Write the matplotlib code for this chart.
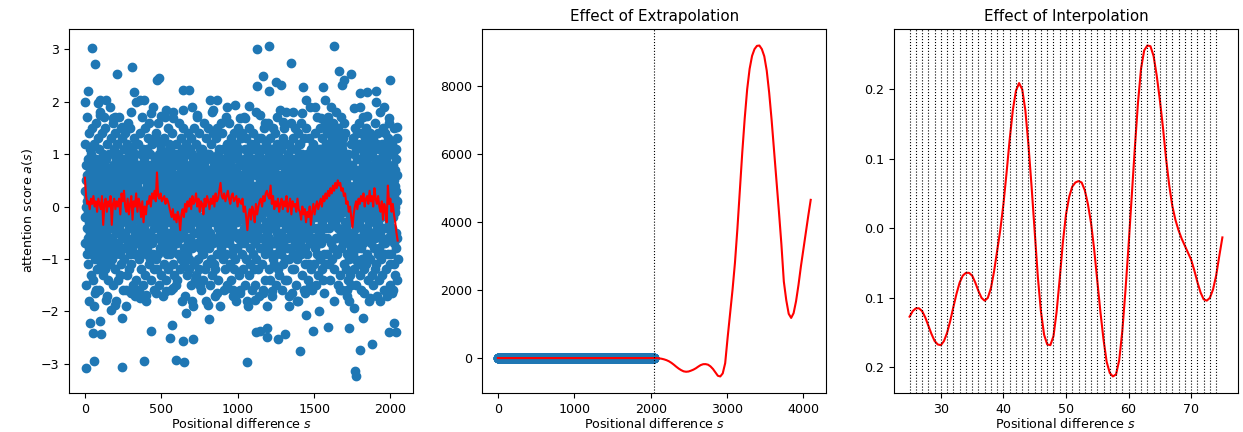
import numpy as np
import matplotlib
matplotlib.use('Agg')
import matplotlib.pyplot as plt
from matplotlib.ticker import FixedLocator, FixedFormatter

plt.rcParams['font.size'] = 9.1

# attention scores a(s), bulk of the cloud, in tenths, evenly spread over s = 0..2047
bulk_tenths = [
    3, -7, 12, -2, 8, -15, 0, 5, -4, 17, -9, 1, 6, -11, 2, -6, 9, -1, 14, -8, 4, -3, -18, 7, 0, 11, -5, 2, -13, 6, -2, 10,
    -6, 1, 15, -9, 4, -2, 7, -14, 3, -7, 0, 12, -4, 8, -1, -19, 5, 2, -10, 6, -3, 16, -8, 1, 9, -5, 3, -12, 7, -1, 13, -6,
    2, -9, 5, 11, -3, 0, -16, 6, -7, 4, 18, -2, 8, -5, 1, -11, 3, 9, -6, 14, -1, -4, 7, -13, 2, 10, -8, 5, -2, 17, -10, 0,
    8, -3, -12, 4, 1, 15, -7, 2, -5, 9, -1, -17, 6, 3, -9, 12, 0, -4, 7, -14, 5, -2, 10, -6, 1, 19, -8, 4, -11, 3, -1, 6,
    -4, 13, -1, 7, -10, 2, 5, -6, 16, -3, 0, 8, -15, 4, -7, 1, 11, -2, 6, -12, 3, -9, 14, 0, -5, 9, -18, 2, 7, -3, 12, -8,
    5, -1, -14, 3, 10, -7, 1, 17, -4, 6, -9, 2, -13, 8, 0, -5, 15, -2, 4, -11, 7, -6, 1, 13, -3, -16, 9, -1, 5, -8, 2, 11,
    -2, 7, -10, 0, 14, -5, 3, -8, 9, -19, 4, 1, -6, 12, -3, 6, -1, -13, 8, 2, 16, -7, 5, -4, 10, -2, -12, 3, 7, -9, 1, 15,
    0, -11, 6, -3, 18, 2, -8, 4, -1, 11, -6, 9, -15, 3, 1, -4, 13, -9, 5, 0, -17, 7, -2, 10, -5, 4, 12, -7, 2, -14, 8, -1,
    4, -6, 1, 12, -9, 3, -2, 7, -16, 0, 5, -10, 8, -3, 14, -1, 6, -7, 2, -12, 10, -4, 1, 17, -5, 3, -8, 0, 11, -2, -15, 6,
    -7, 2, 9, -4, 0, -13, 5, 1, 15, -6, 3, -9, 7, -1, -18, 4, 11, -3, 6, -8, 2, 13, -5, 0, 8, -11, 4, -2, 16, -6, 1, -10,
    10, -1, -5, 6, -14, 3, 8, -2, 0, 12, -7, 4, -3, 19, -9, 1, 5, -12, 7, -4, 2, -16, 9, -1, 13, 3, -6, 0, -10, 6, -3, 14,
    -3, 8, -12, 1, 5, -6, 16, -2, 3, -9, 10, 0, -4, 7, -15, 2, 6, -1, 12, -8, 4, -5, 0, 11, -13, 3, 9, -7, 1, -17, 5, 2,
    6, -4, 13, -8, 2, 0, -11, 9, -3, 5, 17, -6, 1, -2, 8, -14, 3, 10, -5, 0, 7, -9, 15, -1, 4, -12, 2, 6, -7, 12, -3, -1,
    -9, 3, 0, 11, -5, 7, -2, -16, 4, 1, -8, 14, 6, -3, 9, -11, 2, -6, 18, 0, -4, 5, -13, 8, -1, 3, 10, -7, 1, -15, 6, -2,
    1, 12, -7, 3, -1, 8, -14, 5, 0, -4, 10, -9, 2, 16, -5, 6, -2, -12, 9, 1, -6, 4, 13, -3, 7, -10, 0, 5, -18, 2, 11, -4,
    -5, 0, 9, -2, 15, -8, 3, 6, -11, 1, -3, 7, -17, 4, 12, -6, 0, 8, -1, -13, 5, 2, -9, 10, -4, 14, 1, -7, 3, -2, 6, -12,
    7, -10, 2, -4, 11, 0, -6, 13, -1, 4, -15, 8, 3, -8, 1, 10, -3, 5, -19, 6, -2, 9, 0, -11, 15, -5, 2, -1, 7, -14, 4, 12,
    -1, 5, -13, 8, 2, -7, 17, 0, -3, 9, -10, 4, 1, -5, 14, -2, 6, -12, 3, 11, -8, 0, 7, -4, -16, 5, 2, 10, -6, 1, -9, 3,
    11, -2, 4, -14, 6, 1, -9, 3, 16, -5, 0, 8, -12, 2, -3, 7, -1, 13, -7, 5, -18, 9, 2, -4, 10, -11, 0, 6, -2, 15, -6, 1,
    -8, 4, 0, 10, -3, -15, 7, 1, -5, 12, 3, -10, 6, -1, 18, -6, 2, 9, -13, 4, -2, 0, 14, -7, 5, 1, -11, 8, -3, 6, -17, 2,
    3, -12, 8, -1, 5, 13, -6, 0, -9, 2, 15, -4, 7, -2, -14, 10, 1, -7, 4, 11, -3, 6, -19, 0, 9, -5, 3, 16, -8, 2, -1, 7,
    -6, 9, -2, 14, 0, -10, 4, -4, 11, 6, -16, 1, -7, 3, 8, -1, -12, 5, 2, -5, 17, -3, 7, -9, 1, 12, -2, -15, 6, 0, 10, -4,
    2, -3, 16, -7, 6, 1, -11, 4, 9, -2, -6, 13, 0, -14, 5, 8, -4, 2, -9, 11, -1, 7, -17, 3, 0, -8, 14, 5, -3, 10, -12, 1,
    -10, 6, 1, -5, 12, 3, -1, -18, 7, 0, 10, -8, 4, -3, 15, 2, -6, 9, -2, -13, 6, 1, 11, -5, 3, -16, 8, -1, 4, -7, 13, 0,
    5, -2, -9, 8, 0, 14, -5, 3, -12, 6, 2, -7, 17, -1, 9, -4, 1, -15, 4, 11, -6, 0, 7, -10, 13, -3, 5, 2, -18, 8, -1, 6,
    -4, 10, 3, -13, 7, -1, 5, 15, -8, 2, -3, 9, -11, 0, 6, -6, 12, 4, -2, -16, 8, 1, -5, 11, 3, -9, 0, 14, -4, 7, 2, -12,
    9, 0, -7, 4, -15, 12, 1, -3, 6, -10, 18, 2, -5, 8, -1, 3, -12, 7, 0, 13, -6, 4, -2, -17, 10, 5, -8, 1, 11, -4, 6, -1,
    -2, 13, -6, 1, 9, -11, 4, 0, -16, 7, 3, -4, 11, -8, 2, 15, -1, 5, -9, 0, 8, -14, 6, 2, -3, 12, -7, 4, 1, -19, 9, -5,
    6, -8, 2, 16, -3, 5, -12, 0, 10, -1, -6, 7, 3, -14, 13, -2, 4, -9, 1, 8, -17, 6, -4, 11, 0, -7, 2, 15, -10, 3, -1, 9,
    -11, 1, 7, -4, 14, -7, 0, 9, -2, -15, 5, 3, -9, 12, 1, -5, 17, -3, 6, -12, 2, 10, -6, 4, -1, 8, -13, 0, 5, -3, 11, -8,
    4, -5, 11, 0, -9, 6, 2, -16, 8, -2, 13, -7, 1, 4, -11, 9, -3, 0, 15, -6, 3, -10, 7, -1, -14, 5, 12, -4, 2, 18, -8, 1,
    -3, 7, -14, 2, 10, -6, 5, -1, 12, -10, 0, 4, -17, 8, -3, 6, 1, -8, 11, 3, -5, 16, -2, 7, -12, 0, 9, -6, 4, -1, 13, -9,
    8, -1, 3, -12, 5, 15, -7, 1, -4, 9, -15, 2, 6, -2, 11, 0, -10, 7, -5, 4, 14, -3, -18, 6, 1, -8, 10, -4, 3, 12, -6, 0,
    -7, 4, 12, -3, 0, -9, 8, 16, -5, 2, -1, 10, -13, 5, 3, -6, 9, -16, 1, 7, -2, 13, -8, 0, 6, -11, 4, 2, -4, 15, -1, 5,
    1, -9, 6, 10, -2, 4, -14, 7, 0, -5, 13, 3, -11, 8, -1, 19, -7, 2, -3, 9, -12, 5, 1, -6, 11, -2, 7, -16, 3, 0, 8, -4,
    12, -4, -1, 7, -11, 3, 9, -6, 14, 0, -8, 5, 2, -15, 6, -2, 10, 1, -9, 4, -4, 17, -1, 8, -13, 3, 6, -7, 0, 11, -5, 2,
    -5, 8, 2, -10, 15, -1, 4, -7, 11, 6, -3, 0, 13, -12, 7, 2, -6, 9, -14, 3, 10, -2, 5, -9, 16, 1, -4, 8, -11, 4, 12, -1,
    9, 3, -6, 14, 1, 7, -9, 12, 4, -2, 17, 6, -11, 10, 2, -4, 15, 8, -1, 5, -14, 11, 3, 19, -7, 6, 0, 13, -3, 9, 2, -10,
    4, 16, -2, 8, -8, 11, 5, 1, -12, 13, 7, -3, 10, 2, 18, -6, 9, 0, 14, -9, 6, 3, -1, 12, -15, 8, 4, 15, -4, 1, 11, 7,
    -2, 10, 6, -13, 14, 3, 9, -5, 1, 17, 7, -8, 12, 0, 5, -16, 11, 4, 8, -1, 13, -7, 2, 16, 6, -11, 9, 3, -3, 14, 1, -6,
    5, -12, -4, 9, -16, 0, 3, -9, 6, -1, -14, 2, -7, 10, -3, -18, 4, -10, 1, 7, -5, -13, 8, -2, 12, -8, 0, -15, 3, 6, -6, 2,
    -1, 8, -9, 3, 13, -5, 1, 6, -12, 10, -3, 4, 0, -7, 15, 2, -10, 7, 11, -4, 1, -15, 9, 5, -2, 14, -8, 3, 0, -11, 6, 16,
    7, -3, 12, -6, 2, -13, 9, 1, -1, 14, -8, 4, 6, -16, 0, 11, -4, 3, -10, 8, 17, -2, 5, -7, 1, 10, -12, 2, -5, 13, -1, 4,
    -6, 2, 9, -11, 5, 0, 15, -4, 7, -9, 3, -1, 12, -14, 6, 1, -3, 10, -18, 4, 8, -6, 2, 14, -2, -10, 5, 0, 11, -7, 3, -13,
    10, -5, 1, 7, -15, 4, -2, 13, 0, -8, 6, 11, -3, 2, -12, 9, 16, -6, 3, -1, 8, -11, 5, 0, -17, 12, 1, -4, 7, -9, 14, 2,
    -3, 11, -8, 0, 6, -14, 3, 9, -5, 1, 18, -2, 7, -10, 4, -6, 12, 2, -13, 5, -1, 10, -7, 15, 3, -4, 8, -16, 1, 6, -9, 0,
    2, -7, 14, 5, -1, 9, -12, 3, 6, -4, 0, -17, 11, 1, -6, 8, -2, 13, -9, 4, 7, -3, 16, -11, 2, 5, -15, 10, -1, 3, -5, 12,
    -9, 6, 0, -4, 12, 3, -16, 8, 1, -2, 10, -7, 5, 15, -11, 2, -1, 7, -13, 4, 0, 9, -5, 11, -8, 3, -14, 6, 1, 13, -6, -10,
]

# points on the fringe of the cloud (|a| about 1.5..2), read one by one
mid_s = [4, 85, 96, 136, 96, 184, 195, 245, 333, 359, 387, 435, 501, 534, 578, 639,
         698, 731, 818, 862, 840, 928, 982, 1015, 1077, 1048, 1147, 1179, 1278, 1295,
         1365, 1420, 1449, 1508, 1545, 1573, 1759, 1803, 1847, 1902, 1956, 1989, 2044,
         74, 63, 140, 173, 195, 271, 304, 359, 403, 468, 534, 578, 665, 698, 753, 808,
         862, 928, 972, 1015, 1070, 1114, 1169, 1223, 1333, 1354, 1387, 1442, 1475, 1530,
         1562, 1628, 1672, 1716, 1759, 1825, 1869, 1934, 2011]
mid_a = [2.0, 1.97, 2.03, 2.04, 1.75, 1.68, 1.71, 1.52, 2.0, 2.03, 2.03, 1.78, 1.73, 1.84, 1.68, 1.84,
         1.9, 1.75, 2.04, 2.03, 1.84, 1.9, 1.94, 1.68, 1.92, 1.68, 1.75, 1.59, 1.84, 1.62,
         1.81, 1.78, 2.03, 1.9, 1.68, 2.03, 1.87, 1.9, 1.73, 2.0, 1.9, 1.68, 1.52,
         -1.59, -1.65, -1.78, -1.97, -1.87, -1.59, -1.65, -1.75, -1.68, -1.65, -1.62, -1.56, -2.03, -1.81, -1.52, -1.87,
         -1.65, -1.56, -1.59, -1.65, -1.9, -1.78, -1.65, -1.62, -1.9, -1.65, -1.81, -1.65, -1.52, -2.0,
         -1.65, -1.81, -1.59, -1.71, -1.94, -1.65, -1.75, -1.81, -1.65]

# points far from zero, read one by one
out_s = [48, 63, 311, 210, 486, 473, 639, 683, 20, 322,
         1125, 1208, 1628, 1348, 1169, 1125, 1252, 1284, 1208, 1427,
         1661, 1694, 1683, 1742, 1558, 1847, 1908, 1996, 1803,
         9, 57, 245, 387, 595, 648, 1063, 1405, 1770, 1777,
         31, 53, 96, 107, 245, 435, 573, 556, 639, 709,
         814, 1120, 1147, 1190, 1190, 1267, 1311, 1449, 1492, 1589,
         1726, 1820, 1799, 1880, 1989, 2039, 2026]
out_a = [3.03, 2.71, 2.67, 2.53, 2.46, 2.41, 2.22, 2.23, 2.21, 2.19,
         3.0, 3.06, 3.07, 2.74, 2.49, 2.29, 2.38, 2.32, 2.2, 2.27,
         2.59, 2.42, 2.32, 2.53, 2.27, 2.19, 2.21, 2.41, 2.16,
         -3.08, -2.95, -3.06, -2.95, -2.92, -2.97, -2.97, -2.76, -3.14, -3.24,
         -2.22, -2.41, -2.18, -2.43, -2.13, -2.38, -2.25, -2.51, -2.57, -2.53,
         -2.15, -2.4, -2.38, -2.32, -2.48, -2.53, -2.44, -2.06, -2.37, -2.29,
         -2.32, -2.13, -2.73, -2.63, -2.39, -2.39, -2.22]

# fitted curve on 0..2047, in hundredths
fit_hundredths = [
    55, 20, 5, 10, -5, 15, 5, 20, 0, 10, -10, 15, 5, -5, 20, -35,
    5, 15, -10, 10, 0, 20, -35, 5, 15, -5, 10, 0, 15, -15, 25, 10,
    30, 0, -10, 15, -15, 5, 20, -25, 10, 0, 25, -10, 15, 5, -20, 10,
    -30, 0, -15, 10, 5, 20, 0, 25, 15, 30, 10, 65, 20, 15, 25, 10,
    15, 20, 5, 15, 10, 0, -10, -20, -5, -25, -15, -30, -10, -20, -45, -15,
    -5, -20, 5, -10, 10, 0, 15, -5, 20, 5, 10, 25, 0, 15, -10, 10,
    5, -15, 15, 0, 20, 10, -5, 15, 5, 20, 0, 25, 10, 15, 30, 45,
    20, 15, 25, 10, 20, 30, 15, 5, 20, 25, 10, 15, 20, 0, 15, 10,
    5, 15, -10, 0, -20, -45, -15, -5, -25, 0, -10, -30, 5, -15, 0, 10,
    15, 0, 20, 10, 25, 30, 20, 15, 40, 5, 20, -5, 10, 0, 15, -10,
    5, 15, -5, 10, 0, 20, -10, 5, 15, -15, 10, 0, 5, -10, 15, -5,
    -10, -25, 0, -15, -5, -30, -10, -20, 0, -35, -10, 5, -15, 0, 10, -5,
    5, 15, 0, 20, 10, 25, 15, 30, 20, 35, 25, 40, 30, 45, 35, 50,
    40, 45, 30, 35, 20, 25, 5, 10, -10, 0, -20, -40, -15, 0, 10, -5,
    15, 5, 20, 10, 25, 0, 15, 20, 5, 30, 10, 20, 0, 35, 15, 5,
    20, 0, -10, 10, -25, 5, -5, -30, 40, 5, 15, -10, 5, -15, -30, -50,
    -65,
]

# extrapolated curve beyond the trained range, s = 2048..4096 every 32
ext_s = list(range(2048, 4097, 32))
ext_a = [0, 0, -8, -20, -38, -62, -95, -140, -195, -255, -310, -355, -390, -402, -395, -370,
         -340, -300, -250, -205, -180, -178, -195, -245, -320, -420, -520, -540, -450, -150, 600, 1300,
         2000, 2800, 3800, 4950, 6050, 7050, 7900, 8500, 8880, 9080, 9175, 9185, 9080, 8870, 8450, 7800,
         7000, 6100, 5200, 4300, 3350, 2250, 1700, 1300, 1180, 1320, 1670, 2150, 2700, 3200, 3700, 4180,
         4650]
train_len = 2048

# interpolated curve, s = 25..75 in steps of 0.5
interp_a = [
    -0.127, -0.119, -0.115, -0.115, -0.119, -0.128, -0.140, -0.152, -0.162, -0.167,
    -0.168, -0.162, -0.150, -0.133, -0.113, -0.094, -0.078, -0.068, -0.064, -0.064,
    -0.068, -0.078, -0.090, -0.100, -0.104, -0.100, -0.086, -0.062, -0.032, -0.002,
    0.035, 0.080, 0.128, 0.170, 0.198, 0.209, 0.200, 0.170, 0.120, 0.060,
    -0.005, -0.070, -0.120, -0.153, -0.167, -0.168, -0.155, -0.120, -0.072, -0.020,
    0.020, 0.045, 0.060, 0.066, 0.068, 0.066, 0.055, 0.035, 0.008, -0.030,
    -0.075, -0.120, -0.160, -0.192, -0.208, -0.213, -0.210, -0.190, -0.148, -0.090,
    -0.025, 0.045, 0.115, 0.180, 0.230, 0.256, 0.263, 0.262, 0.248, 0.220,
    0.185, 0.145, 0.100, 0.062, 0.032, 0.012, -0.003, -0.015, -0.025, -0.035,
    -0.045, -0.060, -0.077, -0.092, -0.102, -0.104, -0.100, -0.088, -0.068, -0.040,
    -0.013,
]
grid_s = list(range(25, 75))
interp_ticks = [0.2, 0.1, 0.0, -0.1, -0.2]
interp_ticklabels = ['0.2', '0.1', '0.0', '0.1', '0.2']

bulk_a = np.array(bulk_tenths) / 10
bulk_s = np.linspace(0, 2047, len(bulk_a))
scatter_s = np.concatenate([bulk_s, mid_s, out_s])
scatter_a = np.concatenate([bulk_a, mid_a, out_a])
fit_a = np.array(fit_hundredths) / 100
fit_s = np.linspace(0, 2047, len(fit_a))
interp_s = np.linspace(25, 75, len(interp_a))

fig = plt.figure(figsize=(12.43, 4.32), dpi=100)
ax1 = fig.add_axes([0.0557, 0.0903, 0.2768, 0.8426])
ax2 = fig.add_axes([0.388, 0.0903, 0.2768, 0.8426])
ax3 = fig.add_axes([0.7192, 0.0903, 0.2768, 0.8426])

ax1.scatter(scatter_s, scatter_a, s=36, color='C0')
ax1.plot(fit_s, fit_a, color='red')
ax1.set_xlabel('Positional difference $s$', labelpad=1)
ax1.set_ylabel('attention score $a(s)$')

ax2.scatter(scatter_s, scatter_a, s=36, color='C0')
ax2.plot(np.concatenate([fit_s, ext_s]), np.concatenate([fit_a, ext_a]), color='red')
ax2.axvline(train_len, color='k', linestyle=':', linewidth=0.8)
ax2.set_xlabel('Positional difference $s$', labelpad=1)
ax2.set_title('Effect of Extrapolation')

ax3.plot(interp_s, interp_a, color='red')
for g in grid_s:
    ax3.axvline(g, color='k', linestyle=':', linewidth=0.8)
ax3.yaxis.set_major_locator(FixedLocator(interp_ticks))
ax3.yaxis.set_major_formatter(FixedFormatter(interp_ticklabels))
ax3.set_xlabel('Positional difference $s$', labelpad=1)
ax3.set_title('Effect of Interpolation')

fig.savefig('out.png', dpi=100)
